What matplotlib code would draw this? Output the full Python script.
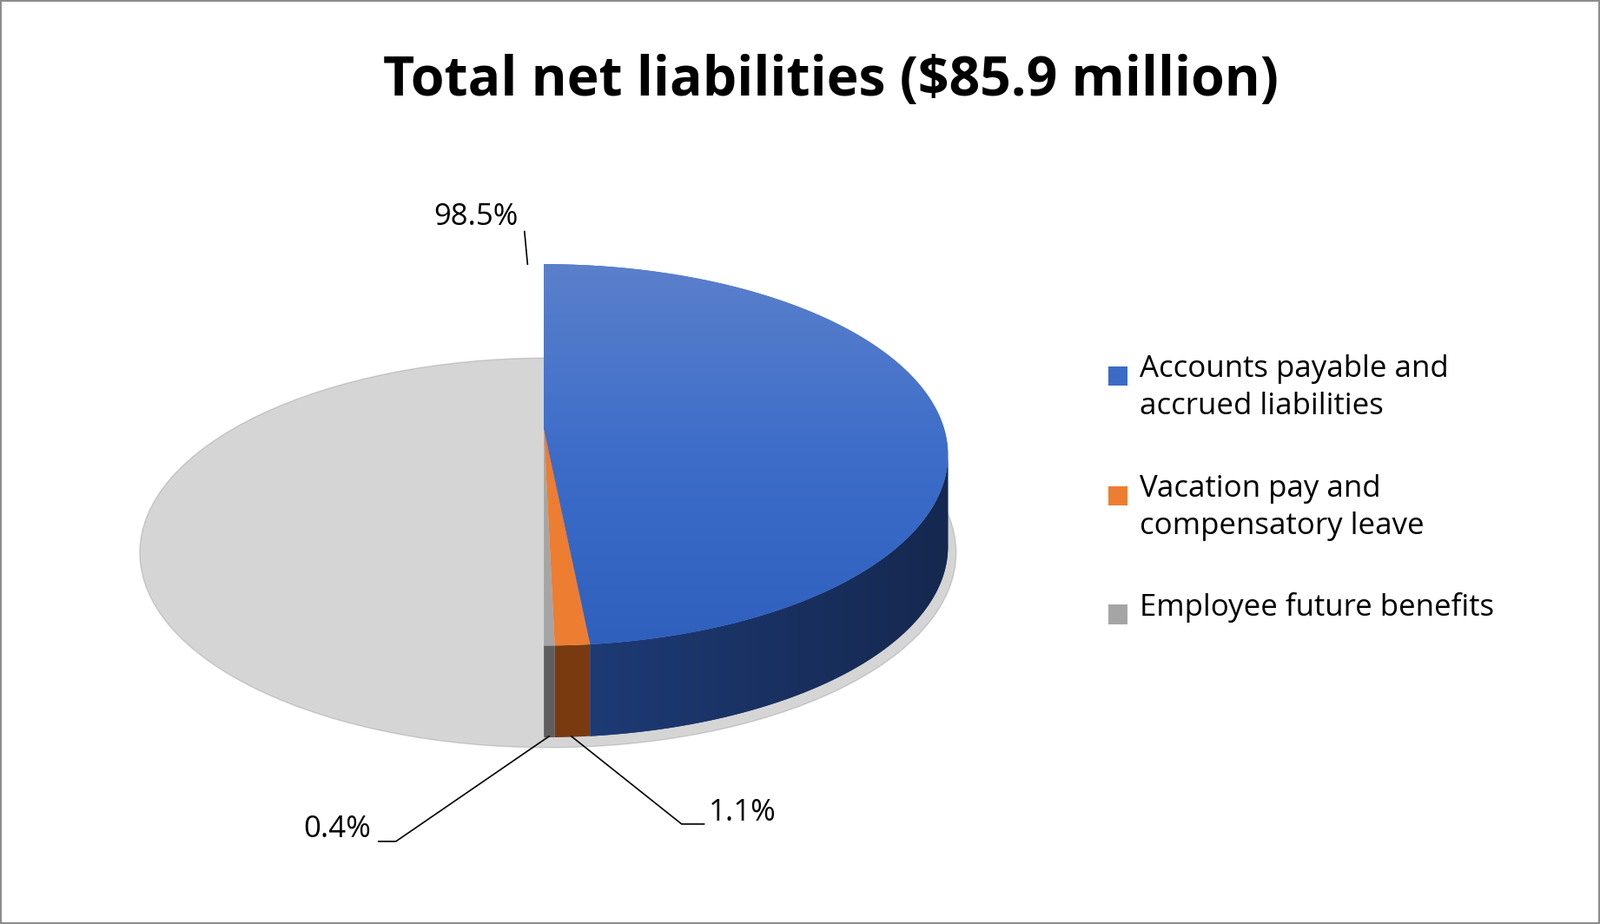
import numpy as np
import matplotlib
matplotlib.use("Agg")
from matplotlib import pyplot as plt
from matplotlib.patches import Polygon, Ellipse, Rectangle

categories = ["Accounts payable and\naccrued liabilities",
              "Vacation pay and\ncompensatory leave",
              "Employee future benefits"]
shares = [98.5, 1.1, 0.4]
labels = ["98.5%", "1.1%", "0.4%"]
colors = ["#3A6BC6", "#ED7D31", "#A5A5A5"]
side_colors = ["#213F7E", "#7A3A10", "#5E5E5E"]

fig = plt.figure(figsize=(18.42, 10.64), dpi=100)
ax = fig.add_axes([0, 0, 1, 1])
ax.set_xlim(0, 1568)
ax.set_ylim(906, 0)
ax.axis("off")

cx, cy, rx, ry, depth = 533, 446, 396, 187, 90
apex_y = 420


def pt(t, dy=0):
    return cx + rx * np.cos(t), cy - ry * np.sin(t) + dy


# slice angles, small slices start at the bottom going counter-clockwise
fr = np.array(shares[::-1]) / sum(shares)
bounds = -np.pi / 2 + 2.6 * np.pi * np.concatenate([[0], np.cumsum(fr)]) / 2.6
bounds[1] = -np.pi / 2 + 0.027
bounds[2] = -np.pi / 2 + 0.115
order = [2, 1, 0]  # gray, orange, blue

# shadow
ax.add_patch(Ellipse((cx + 4, cy + depth + 6), 2 * rx + 8, 2 * ry + 8, color="#888888", alpha=0.35, zorder=1))

# side walls
for k, i in enumerate(order):
    a, b = bounds[k], bounds[k + 1]
    segs = [(max(a, np.pi), min(b, 2 * np.pi)), (max(a, -np.pi), min(b, 0))]
    for s0, s1 in segs:
        if s1 <= s0:
            continue
        t = np.linspace(s0, s1, 200)
        x, y = pt(t)
        xs = np.concatenate([x, x[::-1]])
        ys = np.concatenate([y, (y + depth)[::-1]])
        poly = Polygon(np.column_stack([xs, ys]), closed=True, facecolor=side_colors[i], edgecolor="none", zorder=2)
        ax.add_patch(poly)
        if i == 0:
            grad = np.linspace(0, 1, 256).reshape(1, -1)
            cmap = matplotlib.colors.LinearSegmentedColormap.from_list("w", ["#2B52A0", "#1F3D7A", "#15284F"])
            im = ax.imshow(grad, extent=(cx - rx, cx + rx, cy + ry + depth, cy), cmap=cmap, aspect="auto", zorder=3)
            im.set_clip_path(poly)

# top wedges
for k, i in enumerate(order):
    t = np.linspace(bounds[k], bounds[k + 1], 400)
    x, y = pt(t)
    verts = np.column_stack([np.concatenate([[cx], x]), np.concatenate([[apex_y], y])])
    poly = Polygon(verts, closed=True, facecolor=colors[i], edgecolor="none", zorder=4)
    ax.add_patch(poly)
    if i == 0:
        grad = np.linspace(0, 1, 256).reshape(-1, 1)
        cmap = matplotlib.colors.LinearSegmentedColormap.from_list("t", ["#5B80CC", "#3D6DC9", "#2F60BE"])
        im = ax.imshow(grad, extent=(cx - rx, cx + rx, cy + ry, cy - ry), cmap=cmap, aspect="auto", zorder=5)
        im.set_clip_path(poly)

# data labels with leader lines
fs = 25
ax.text(508, 213, labels[0], ha="right", va="center", fontsize=fs, family="Open Sans")
ax.plot([514, 517], [227, 259], color="black", lw=1.2, zorder=6)
ax.text(364, 813, labels[2], ha="right", va="center", fontsize=fs, family="Open Sans")
ax.plot([371, 388, 538], [825, 825, 722], color="black", lw=1.2, zorder=6)
ax.text(694, 797, labels[1], ha="left", va="center", fontsize=fs, family="Open Sans")
ax.plot([560, 668, 690], [722, 808, 808], color="black", lw=1.2, zorder=6)

# title
ax.text(814, 80, "Total net liabilities ($85.9 million)", ha="center", va="center",
        fontsize=45, fontweight="bold", family="Open Sans")

# legend
ly = [368, 486, 602]
for i, cat in enumerate(categories):
    ax.add_patch(Rectangle((1086, ly[i] - 9), 19, 19, facecolor=colors[i], edgecolor="none"))
    ax.text(1117, ly[i] - 21, cat, ha="left", va="top", fontsize=fs, family="Open Sans", linespacing=1.35)

ax.add_patch(Rectangle((1, 1), 1566, 904, fill=False, edgecolor="#8C8C8C", lw=1.5))

fig.savefig("out.png", dpi=100)
